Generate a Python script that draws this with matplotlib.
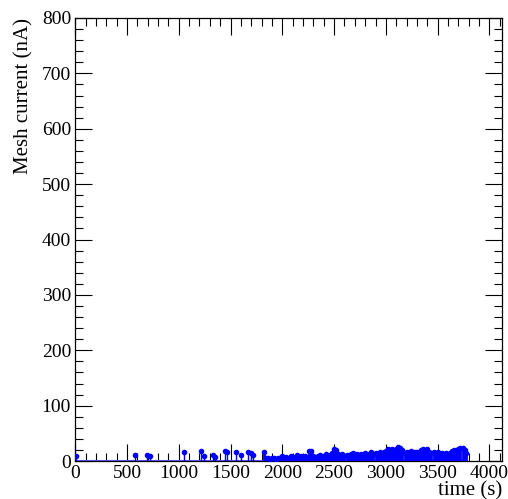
import matplotlib
matplotlib.use("Agg")
import matplotlib.pyplot as plt
from matplotlib.ticker import MultipleLocator

# isolated spikes, early part of the run
t_sparse = [10, 573, 690, 720, 1055, 1217, 1240, 1330, 1350, 1443, 1470,
            1557, 1605, 1665, 1700, 1715]
i_sparse = [9, 11, 11, 10, 17, 19, 10, 11, 8, 19, 17,
            17, 11, 17, 14, 11]

# dense part of the run
t_dense = [1820, 1840, 1860, 1880, 1900, 1920, 1940, 1960, 1980, 2000,
           2020, 2040, 2060, 2080, 2100, 2120, 2140, 2160, 2180, 2200,
           2220, 2240, 2260, 2280, 2300, 2320, 2340, 2360, 2380, 2400,
           2420, 2440, 2460, 2480, 2500, 2520, 2540, 2560, 2580, 2600,
           2620, 2640, 2660, 2680, 2700, 2720, 2740, 2760, 2780, 2800,
           2820, 2840, 2860, 2880, 2900, 2920, 2940, 2960, 2980, 3000,
           3020, 3040, 3060, 3080, 3100, 3120, 3140, 3160, 3180, 3200,
           3220, 3240, 3260, 3280, 3300, 3320, 3340, 3360, 3380, 3400,
           3420, 3440, 3460, 3480, 3500, 3520, 3540, 3560, 3580, 3600,
           3620, 3640, 3660, 3680, 3700, 3720, 3740, 3760, 3775]
i_dense = [17, 6, 5, 4, 6, 5, 4, 6, 5, 9,
           5, 7, 5, 9, 6, 8, 11, 6, 9, 7,
           10, 8, 19, 18, 10, 7, 9, 11, 8, 10,
           12, 9, 11, 14, 21, 20, 12, 10, 13, 9,
           11, 8, 12, 15, 10, 12, 9, 13, 11, 14,
           10, 13, 17, 12, 15, 13, 17, 12, 16, 19,
           22, 20, 22, 17, 21, 25, 23, 20, 15, 17,
           14, 18, 13, 16, 17, 14, 20, 22, 18, 21,
           17, 14, 17, 15, 16, 12, 14, 11, 15, 13,
           15, 18, 20, 19, 22, 24, 23, 20, 14]

t_all = t_sparse + t_dense
i_all = i_sparse + i_dense

plt.rcParams['font.family'] = ['Liberation Serif', 'DejaVu Serif']

fig = plt.figure(figsize=(5.08, 4.99), dpi=100)
ax = fig.add_axes([0.148, 0.076, 0.840, 0.888])

# baseline trace, then the current readings
ax.hlines(0, t_all[0], t_all[-1], color='#5a5aff', lw=1.5, zorder=2)
ax.vlines(t_sparse, 0, i_sparse, color='blue', lw=1.0, zorder=3)
ax.vlines(t_dense, 0, i_dense, color='blue', lw=2.0, zorder=3)
ax.plot(t_all, i_all, linestyle='none', marker='o', ms=3,
        color='blue', zorder=4)

ax.set_xlim(0, 4120)
ax.set_ylim(0, 800)

ax.xaxis.set_major_locator(MultipleLocator(500))
ax.xaxis.set_minor_locator(MultipleLocator(100))
ax.yaxis.set_major_locator(MultipleLocator(100))
ax.yaxis.set_minor_locator(MultipleLocator(20))
ax.tick_params(which='both', direction='in', top=True, right=True,
               labelsize=14, width=0.8)
ax.tick_params(which='major', length=12, pad=3)
ax.tick_params(which='minor', length=6)
for s in ax.spines.values():
    s.set_linewidth(0.9)

ax.set_xlabel('time (s)', fontsize=15, loc='right', labelpad=-1)
ax.set_ylabel('Mesh current (nA)', fontsize=15, loc='top', labelpad=6)

fig.savefig('out.png', dpi=100)
